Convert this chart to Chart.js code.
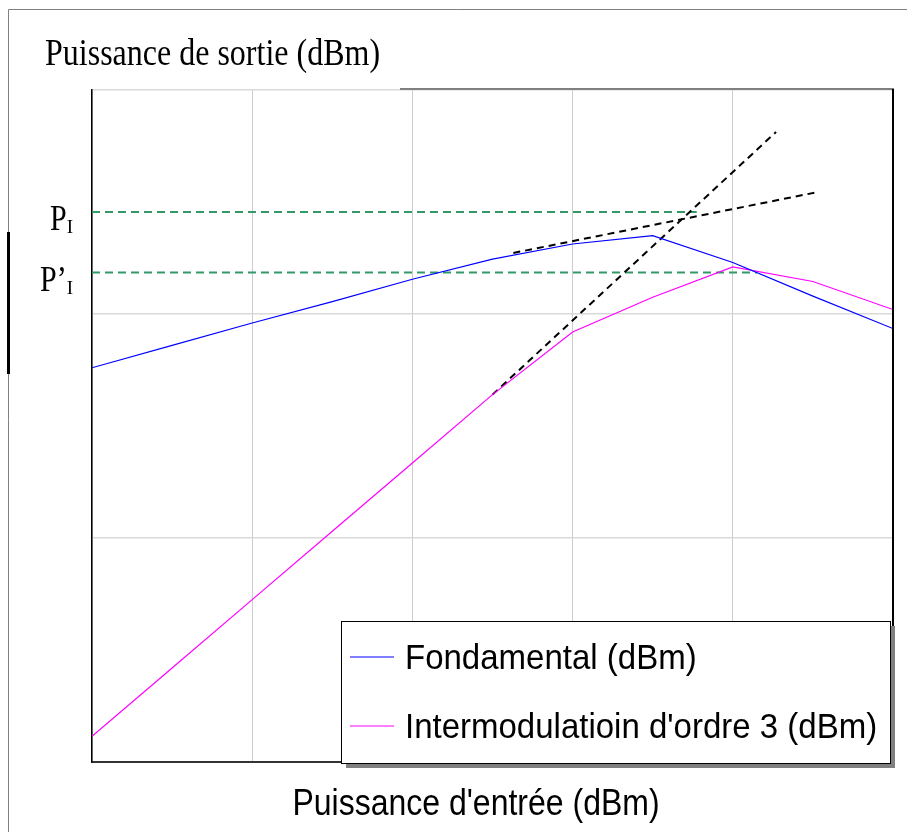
<!DOCTYPE html>
<html>
<head>
<meta charset="utf-8">
<script src="https://cdn.jsdelivr.net/npm/chart.js@4.4.1/dist/chart.umd.min.js"></script>
<style>
  body { margin: 0; background: #ffffff; }
  #wrap { width: 909px; height: 832px; }
</style>
</head>
<body>
<div id="wrap"><canvas id="chart" width="909" height="832"></canvas></div>
<script>
// input power steps (arbitrary units, one per half grid cell)
const inputSteps = [0, 1, 2, 3, 4, 5, 6, 7, 8, 9, 10];
// output powers (dBm, relative scale -60..0)
const fundamental = [-24.8, -22.8, -20.8, -18.9, -16.9, -15.1, -13.75, -13.0, -15.4, -18.4, -21.3];
const intermod3 = [-57.7, -51.6, -45.5, -39.4, -33.3, -27.2, -21.6, -18.5, -15.8, -17.1, -19.6];

// asymptotes (dashed black)
const im3AsymX = [5.0, 8.54];
const im3AsymY = [-27.2, -3.75];
const fundAsymX = [5.26, 9.07];
const fundAsymY = [-14.55, -9.1];

// intercept levels (dashed green) and where they stop
const piLevels = [-10.9, -16.3];
const piEnds = [7.55, 8.3];
const piLabels = ['P', 'P\u2019'];

const seriesLabels = ['Fondamental (dBm)', "Intermodulatioin d'ordre 3 (dBm)"];
const seriesColors = ['#0000ff', '#ff00ff'];

const pts = (xs, ys) => xs.map((x, i) => ({ x: x, y: ys[i] }));

const datasets = [
    {
        label: seriesLabels[0],
        data: pts(inputSteps, fundamental),
        borderColor: seriesColors[0],
        borderWidth: 1.2,
        pointRadius: 0,
        tension: 0
    },
    {
        label: seriesLabels[1],
        data: pts(inputSteps, intermod3),
        borderColor: seriesColors[1],
        borderWidth: 1.2,
        pointRadius: 0,
        tension: 0
    },
    {
        label: 'asym3',
        data: pts(im3AsymX, im3AsymY),
        borderColor: '#000000',
        borderWidth: 2,
        borderDash: [7, 5],
        pointRadius: 0
    },
    {
        label: 'asym1',
        data: pts(fundAsymX, fundAsymY),
        borderColor: '#000000',
        borderWidth: 2,
        borderDash: [7, 5],
        pointRadius: 0
    }
];
piLevels.forEach((lvl, i) => {
    datasets.push({
        label: 'pi' + i,
        data: [{ x: 0, y: lvl }, { x: piEnds[i], y: lvl }],
        borderColor: '#339966',
        borderWidth: 2,
        borderDash: [8, 5],
        pointRadius: 0
    });
});

// scaled text helper (the original text is stretched vertically)
function stretchText(ctx, text, x, y, font, sy, align) {
    ctx.save();
    ctx.translate(x, y);
    ctx.scale(1, sy);
    ctx.font = font;
    ctx.textAlign = align || 'left';
    ctx.textBaseline = 'middle';
    ctx.fillStyle = '#000000';
    ctx.fillText(text, 0, 0);
    ctx.restore();
}

const decor = {
    id: 'decor',
    beforeDraw: (chart) => {
        const {ctx} = chart;
        ctx.save();
        ctx.fillStyle = '#ffffff';
        ctx.fillRect(0, 0, chart.width, chart.height);
        ctx.restore();
    },
    afterDraw: (chart) => {
        const {ctx, chartArea: a, scales} = chart;
        ctx.save();
        // outer frame
        ctx.strokeStyle = '#808080';
        ctx.lineWidth = 1;
        ctx.beginPath();
        ctx.moveTo(8.5, 832);
        ctx.lineTo(8.5, 9.5);
        ctx.lineTo(907, 9.5);
        ctx.stroke();
        ctx.fillStyle = '#000000';
        ctx.fillRect(7, 232, 3, 142);

        // top grey edge and right axis
        ctx.strokeStyle = '#808080';
        ctx.lineWidth = 2;
        ctx.beginPath();
        ctx.moveTo(400, a.top - 1);
        ctx.lineTo(a.right + 1, a.top - 1);
        ctx.stroke();
        ctx.strokeStyle = '#000000';
        ctx.beginPath();
        ctx.moveTo(a.right, a.top - 1);
        ctx.lineTo(a.right, a.bottom);
        ctx.stroke();

        // titles
        stretchText(ctx, 'Puissance de sortie (dBm)', 45, 55, '32px "Liberation Serif"', 1.2);
        stretchText(ctx, "Puissance d'entr\u00e9e (dBm)", 476, 805, '32px "Liberation Sans"', 1.15, 'center');

        // P_I labels on the y axis
        piLevels.forEach((lvl, i) => {
            const y = scales.y.getPixelForValue(lvl);
            ctx.save();
            ctx.fillStyle = '#000000';
            ctx.textBaseline = 'alphabetic';
            ctx.font = '19px "Liberation Serif"';
            const subW = ctx.measureText('I').width;
            ctx.textAlign = 'right';
            ctx.fillText('I', 73, y + 21);
            ctx.translate(73 - subW, y + 18);
            ctx.scale(1, 1.2);
            ctx.font = '30px "Liberation Serif"';
            ctx.fillText(piLabels[i], 0, 0);
            ctx.restore();
        });

        // legend box
        const lx = 341, ly = 621, lw = 549, lh = 142;
        ctx.fillStyle = '#808080';
        ctx.fillRect(lx + 5, ly + 5, lw, lh);
        ctx.fillStyle = '#ffffff';
        ctx.fillRect(lx, ly, lw, lh);
        ctx.strokeStyle = '#000000';
        ctx.lineWidth = 1;
        ctx.strokeRect(lx + 0.5, ly + 0.5, lw, lh);
        const rows = [657, 726];
        seriesLabels.forEach((lab, i) => {
            ctx.strokeStyle = seriesColors[i];
            ctx.lineWidth = 1.2;
            ctx.beginPath();
            ctx.moveTo(350, rows[i]);
            ctx.lineTo(394, rows[i]);
            ctx.stroke();
            stretchText(ctx, lab, 405, rows[i] + 2, '33px "Liberation Sans"', 1.05);
        });
        ctx.restore();
    }
};

const ctx = document.getElementById('chart');

const config = {
    type: 'line',
    data: { datasets: datasets },
    options: {
        responsive: false,
        animation: false,
        events: [],
        layout: {
            padding: { left: 92, top: 90, right: 16, bottom: 70 }
        },
        plugins: {
            legend: { display: false },
            tooltip: { enabled: false },
            title: { display: false }
        },
        scales: {
            x: {
                type: 'linear',
                min: 0,
                max: 10,
                ticks: { display: false, stepSize: 2 },
                grid: { color: '#cccccc', lineWidth: 1, drawTicks: false },
                border: { display: true, color: '#333333', width: 2 }
            },
            y: {
                type: 'linear',
                min: -60,
                max: 0,
                ticks: { display: false, stepSize: 20 },
                grid: { color: '#d9d9d9', lineWidth: 1.5, drawTicks: false },
                border: { display: true, color: '#000000', width: 1.5 }
            }
        }
    },
    plugins: [decor]
};

const myChart = new Chart(ctx, config);
</script>
</body>
</html>
